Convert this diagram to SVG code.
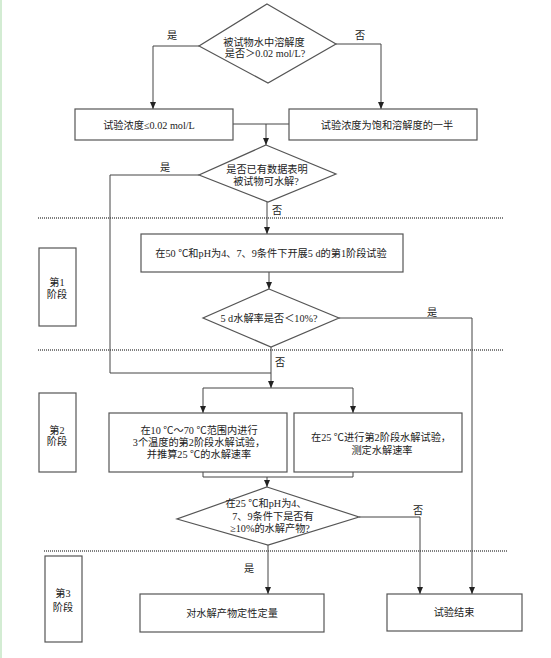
<svg xmlns="http://www.w3.org/2000/svg" width="551" height="658" viewBox="0 0 551 658">
<defs>
<marker id="arr" markerWidth="7" markerHeight="6" refX="7" refY="3" orient="auto" markerUnits="userSpaceOnUse">
<path d="M0,0 L7,3 L0,6 z" fill="#222"/>
</marker>
<style>
.box{fill:#fff;stroke:#555;stroke-width:1.2}
.ln{fill:none;stroke:#444;stroke-width:1}
.ar{fill:none;stroke:#444;stroke-width:1;marker-end:url(#arr)}
.dash{stroke:#555;stroke-width:1.5;stroke-dasharray:1 1}
text{font-family:"Liberation Serif","Noto Sans CJK SC",serif;font-size:10.2px;fill:#222;text-anchor:middle}
</style>
</defs>
<rect x="0" y="0" width="551" height="658" fill="#fff"/>
<rect x="0" y="0" width="2" height="658" fill="#d3ecd3"/>

<g id="separators">
<line class="dash" x1="38" y1="218" x2="503" y2="218"/>
<line class="dash" x1="38" y1="350" x2="503" y2="350"/>
<line class="dash" x1="44" y1="551" x2="508" y2="551"/>
</g>

<g id="connectors">
<polyline class="ar" points="199,46 153,46 153,109"/>
<polyline class="ar" points="336,44 381,44 381,109"/>
<line class="ln" x1="233" y1="124" x2="289" y2="124"/>
<line class="ar" x1="266" y1="124" x2="266" y2="145"/>
<line class="ar" x1="267" y1="202" x2="267" y2="234"/>
<polyline class="ln" points="199,175 110,175 110,373 271,373"/>
<line class="ar" x1="269" y1="272" x2="269" y2="289"/>
<polyline class="ar" points="339,318 472,318 472,594"/>
<line class="ar" x1="271" y1="347" x2="271" y2="388"/>
<line class="ln" x1="203" y1="388" x2="353" y2="388"/>
<line class="ar" x1="203" y1="388" x2="203" y2="413"/>
<line class="ar" x1="353" y1="388" x2="353" y2="413"/>
<polyline class="ln" points="203,472 203,477 353,477 353,472"/>
<line class="ar" x1="267" y1="477" x2="267" y2="487"/>
<polyline class="ar" points="359,517 420,517 420,594"/>
<line class="ar" x1="268" y1="545" x2="268" y2="594"/>
<text x="172" y="39">是</text>
<text x="360" y="39">否</text>
<text x="165" y="171">是</text>
<text x="277" y="214">否</text>
<text x="432" y="316">是</text>
<text x="280" y="366">否</text>
<text x="418" y="514">否</text>
<text x="249" y="572">是</text>
</g>

<g id="d1">
<polygon class="box" points="267,4 336,44 268,83 199,46"/>
<text x="264" y="46">被试物水中溶解度</text>
<text x="265" y="57">是否＞0.02 mol/L?</text>
</g>

<g id="b_low">
<rect class="box" x="75" y="109" width="158" height="31"/>
<text x="149" y="129">试验浓度≤0.02 mol/L</text>
</g>

<g id="b_half">
<rect class="box" x="289" y="109" width="188" height="31"/>
<text x="387" y="129">试验浓度为饱和溶解度的一半</text>
</g>

<g id="d2">
<polygon class="box" points="266,145 336,174 268,202 199,175"/>
<text x="267" y="173">是否已有数据表明</text>
<text x="266" y="185">被试物可水解?</text>
</g>

<g id="stage1">
<rect class="box" x="39" y="248" width="37" height="78"/>
<text x="57" y="286">第1</text>
<text x="57" y="298">阶段</text>
</g>

<g id="b_s1">
<rect class="box" x="141" y="234" width="262" height="38"/>
<text x="271" y="257">在50 ℃和pH为4、7、9条件下开展5 d的第1阶段试验</text>
</g>

<g id="d3">
<polygon class="box" points="269,289 339,318 271,347 203,318"/>
<text x="269" y="322">5 d水解率是否＜10%?</text>
</g>

<g id="stage2">
<rect class="box" x="39" y="393" width="37" height="79"/>
<text x="57" y="434">第2</text>
<text x="57" y="445">阶段</text>
</g>

<g id="b_multi">
<rect class="box" x="109" y="413" width="178" height="59"/>
<text x="199" y="434">在10 ℃～70 ℃范围内进行</text>
<text x="199" y="446">3个温度的第2阶段水解试验，</text>
<text x="199" y="458">并推算25 ℃的水解速率</text>
</g>

<g id="b_25">
<rect class="box" x="294" y="413" width="168" height="59"/>
<text x="381" y="441">在25 ℃进行第2阶段水解试验，</text>
<text x="382" y="454">测定水解速率</text>
</g>

<g id="d4">
<polygon class="box" points="267,487 359,517 268,545 177,519"/>
<text x="266" y="507">在25 ℃和pH为4、</text>
<text x="273" y="520">7、9条件下是否有</text>
<text x="270" y="532">≥10%的水解产物?</text>
</g>

<g id="stage3">
<rect class="box" x="45" y="556" width="37" height="86"/>
<text x="63" y="597">第3</text>
<text x="63" y="611">阶段</text>
</g>

<g id="b_quant">
<rect class="box" x="140" y="594" width="184" height="38"/>
<text x="232" y="617">对水解产物定性定量</text>
</g>

<g id="b_end">
<rect class="box" x="387" y="594" width="135" height="37"/>
<text x="454" y="616">试验结束</text>
</g>
</svg>
